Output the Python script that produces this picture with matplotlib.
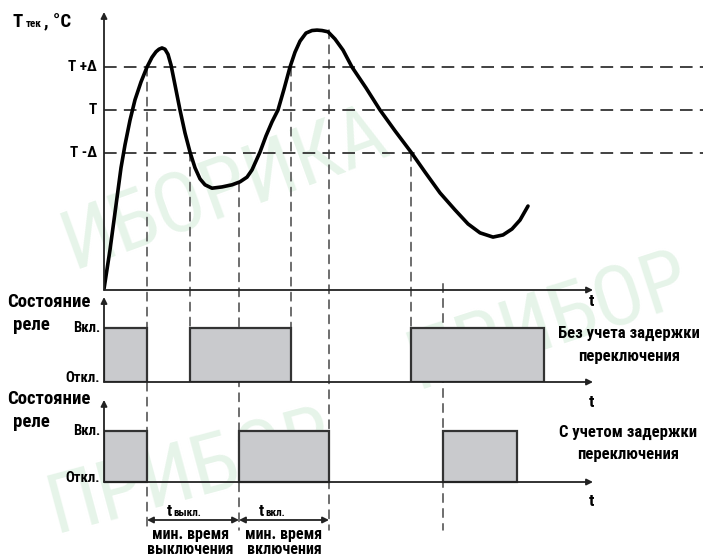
import matplotlib.pyplot as plt
from matplotlib.patches import ConnectionPatch

plt.rcParams['font.family'] = ['Liberation Sans Narrow', 'Roboto Condensed', 'PT Sans Narrow',
                               'Arimo', 'DejaVu Sans']
plt.rcParams['font.weight'] = 'bold'

# temperature curve: time (arb. units), temperature in units of delta around setpoint T
time = [0, 6, 12, 17, 21, 26, 31, 37, 43, 48, 52, 55, 58, 61, 64, 67, 71, 76, 81, 86, 91, 96,
        101, 108, 118, 128, 136, 143, 148, 152, 156, 162, 168, 174, 180, 186, 191, 196, 202,
        208, 213, 218, 224, 231, 239, 248, 262, 276, 291, 307, 321, 336, 351, 364, 376, 389,
        399, 408, 416, 424]
temp = [-4.21, -3.29, -2.24, -1.36, -0.82, -0.24, 0.24, 0.66, 1.01, 1.24, 1.37, 1.43, 1.46,
        1.43, 1.31, 1.06, 0.59, 0.0, -0.54, -0.99, -1.36, -1.62, -1.76, -1.84, -1.81, -1.76,
        -1.69, -1.58, -1.41, -1.2, -0.99, -0.61, -0.28, 0.0, 0.49, 1.01, 1.36, 1.62, 1.81,
        1.87, 1.88, 1.87, 1.84, 1.67, 1.41, 1.01, 0.52, 0.0, -0.49, -0.99, -1.46, -1.95,
        -2.35, -2.68, -2.89, -2.99, -2.94, -2.8, -2.59, -2.26]
levels = [1, 0, -1]
level_labels = ['T +Δ', 'T', 'T -Δ']

# relay without switching delay
plain_on = [0, 86, 307]
plain_off = [43, 187, 440]
# relay with min. off / on time
delay_on = [0, 135, 339]
delay_off = [43, 225, 413]

# dashed guides: time, where they start on the temperature chart, long = down to the bottom
guide_t = [43, 86, 135, 187, 225, 307, 339]
guide_from = [1, -1, -1.72, 1, 1.88, -1, -4.09]
guide_long = [True, False, True, False, True, False, True]

W, H = 703, 556
fig = plt.figure(figsize=(W / 100, H / 100), dpi=100)


def rect(top, bottom):
    return [104 / W, 1 - bottom / H, 599 / W, (bottom - top) / H]


ax_t = fig.add_axes(rect(0, 290))
ax_r1 = fig.add_axes(rect(290, 382), sharex=ax_t)
ax_r2 = fig.add_axes(rect(382, 556), sharex=ax_t)
ax_t.set_xlim(0, 599)
ax_t.set_ylim(-4.235, 2.588)
ax_r1.set_ylim(0, 1.704)
ax_r2.set_ylim(-1.451, 1.961)
for ax in (ax_t, ax_r1, ax_r2):
    ax.axis('off')

# faint watermark behind everything
wm = dict(color='#e6f4e9', fontsize=60, fontweight='normal', ha='center', va='center', zorder=-5)
fig.text(0.32, 0.66, 'ИБОРИКА', rotation=20, **wm)
fig.text(0.78, 0.42, 'ПРИБОР', rotation=18, **wm)
fig.text(0.27, 0.15, 'ПРИБОР', rotation=15, **wm)

# guides
for t, v, long in zip(guide_t, guide_from, guide_long):
    if long:
        end, ax_end = -0.94, ax_r2
    else:
        end, ax_end = 1, ax_r1
    con = ConnectionPatch(xyA=(t, v), coordsA=ax_t.transData, xyB=(t, end),
                          coordsB=ax_end.transData, color='#555', lw=1.2,
                          linestyle=(0, (5, 4)), clip_on=False, zorder=1)
    ax_t.add_artist(con)

ax_t.hlines(levels, 0, 599, colors='#333', lw=1.3, linestyles=(0, (7, 4)), zorder=2)
ax_t.plot(time, temp, color='black', lw=2.6, solid_capstyle='round', solid_joinstyle='round',
          zorder=5)

ax_r1.bar(plain_on, 1, width=[b - a for a, b in zip(plain_on, plain_off)], align='edge',
          color='#c9cacd', edgecolor='#333', lw=1.6, zorder=3)
ax_r2.bar(delay_on, 1, width=[b - a for a, b in zip(delay_on, delay_off)], align='edge',
          color='#c9cacd', edgecolor='#333', lw=1.6, zorder=3)


def arrow(ax, x0, y0, x1, y1, style='-|>'):
    ax.annotate('', xy=(x1, y1), xytext=(x0, y0),
                arrowprops=dict(arrowstyle=style, color='#222', lw=1.3, mutation_scale=9,
                                shrinkA=0, shrinkB=0),
                annotation_clip=False, zorder=6)


arrow(ax_t, 0, -4.235, 0, 2.306)
arrow(ax_t, 0, -4.235, 489, -4.235)
arrow(ax_r1, 0, 0, 0, 1.574)
arrow(ax_r1, 0, 0, 489, 0)
arrow(ax_r2, 0, 0, 0, 1.61)
arrow(ax_r2, 0, 0, 489, 0)
arrow(ax_r2, guide_t[0], -0.745, guide_t[2], -0.745, '<|-|>')
arrow(ax_r2, guide_t[2], -0.745, guide_t[4], -0.745, '<|-|>')


def ftext(x, y, s, **kw):
    fig.text(x / W, 1 - y / H, s, **kw)


ftext(12, 27, 'T', fontsize=13.5, va='baseline')
ftext(26, 27, 'тек', fontsize=8, va='baseline')
ftext(44, 27, ', °C', fontsize=13.5, va='baseline')
for v, lab in zip(levels, level_labels):
    ax_t.text(-7, v, lab, fontsize=11, ha='right', va='center')

for y0 in (0, 97):
    ftext(7, 302 + y0, 'Состояние', fontsize=13.5, va='center')
    ftext(13, 325 + y0, 'реле', fontsize=13.5, va='center')
for ax in (ax_r1, ax_r2):
    ax.text(-4, 1, 'Вкл.', fontsize=10.5, ha='right', va='center')
    ax.text(-4, 0.07, 'Откл.', fontsize=10.5, ha='right', va='center')
    ax.text(487, -0.38, 't', fontsize=12.5, ha='center', va='center')
ax_t.text(487, -4.5, 't', fontsize=12.5, ha='center', va='center')

ftext(629, 333, 'Без учета задержки', fontsize=12, ha='center', va='center')
ftext(629, 357, 'переключения', fontsize=12, ha='center', va='center')
ftext(628, 432, 'С учетом задержки', fontsize=12, ha='center', va='center')
ftext(628, 455, 'переключения', fontsize=12, ha='center', va='center')

ftext(167, 516, 't', fontsize=12, va='baseline')
ftext(173, 516, 'выкл.', fontsize=8, va='baseline')
ftext(191, 534, 'мин. время', fontsize=11.5, ha='center', va='center')
ftext(190, 550, 'выключения', fontsize=11.5, ha='center', va='center')
ftext(259, 516, 't', fontsize=12, va='baseline')
ftext(265, 516, 'вкл.', fontsize=8, va='baseline')
ftext(284, 534, 'мин. время', fontsize=11.5, ha='center', va='center')
ftext(284, 550, 'включения', fontsize=11.5, ha='center', va='center')

fig.savefig('out.png', dpi=100)
